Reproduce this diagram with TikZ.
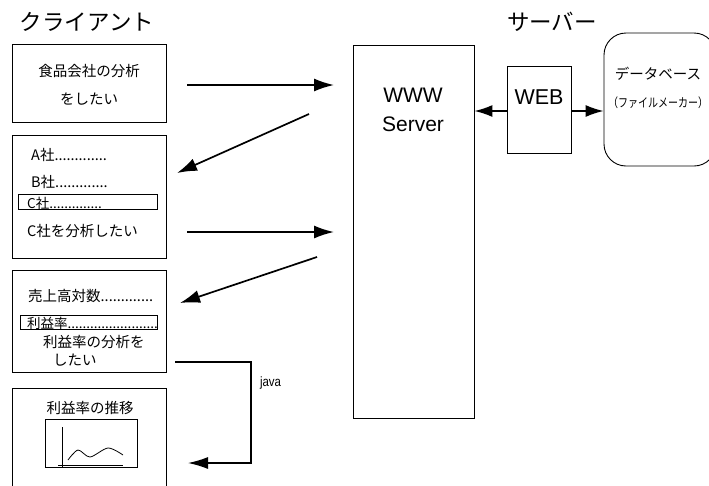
\documentclass[tikz,border=0pt]{standalone}
\usepackage{fontspec}
\setmainfont{Liberation Sans}
\newfontfamily\jpfont{Noto Sans CJK JP}
\usetikzlibrary{arrows.meta}

\begin{document}
\begin{tikzpicture}[x=1pt,y=-1pt,
    box/.style={draw, line width=0.9pt, inner sep=0pt},
    flow/.style={line width=1.7pt, -{Latex[length=20pt,width=13pt]}},
    jp/.style={font=\jpfont\fontsize{14.5}{17}\selectfont, inner sep=0pt, yshift=-1.5pt},
    head/.style={font=\jpfont\fontsize{22.5}{26}\selectfont, inner sep=0pt}]

      \useasboundingbox (0,0) rectangle (709,485);

      % headings
      \node[head] (client) at (87,22) {クライアント};
      \node[head] (serverhd) at (552,22) {サーバー};

      % client screens
      \node[box, minimum width=154, minimum height=78] (scr1) at (89,83) {};
      \node[box, minimum width=154, minimum height=123] (scr2) at (89,196.5) {};
      \node[box, minimum width=154, minimum height=102] (scr3) at (89,321) {};
      \node[box, minimum width=154, minimum height=110] (scr4) at (89,443) {};

      \node[jp] (ask1) at (89,70) {食品会社の分析};
      \node[jp] (ask1b) at (89,98) {をしたい};

      \node[jp, anchor=west] (coA) at (31,153) {A社.............};
      \node[jp, anchor=west] (coB) at (31,180) {B社.............};
      \node[box, minimum width=139, minimum height=15] (selC) at (87.5,202) {};
      \node[jp, anchor=west, yshift=0.5pt, font=\jpfont\fontsize{13.5}{16}\selectfont] (coC) at (27,202) {C社..............};
      \node[jp, anchor=west] (ask2) at (27,230) {C社を分析したい};

      \node[jp, anchor=west] (sales) at (28,294) {売上高対数.............};
      \node[box, minimum width=137, minimum height=14] (selR) at (88.5,322) {};
      \node[jp, anchor=west, yshift=0.5pt, font=\jpfont\fontsize{13.5}{16}\selectfont] (rate) at (27,322) {利益率........................};
      \node[jp, anchor=west] (ask3) at (43,341) {利益率の分析を};
      \node[jp, anchor=west] (ask3b) at (53,359) {したい};

      \node[jp] (trend) at (90,406) {利益率の推移};
      \node[box, minimum width=92, minimum height=48] (chart) at (91,443) {};
      % little graph
      \draw[line width=0.8pt] (62,427) -- (62,468);
      \draw[line width=0.8pt] (58,465) -- (123,465);
      \draw[line width=0.8pt] plot[smooth] coordinates {(68,460) (78,450) (90,457) (108,448) (123,455)};

      % server side
      \node[box, minimum width=121, minimum height=373] (www) at (413.5,231.5) {};
      \node[align=center, font=\fontsize{21}{29}\selectfont] (wwwlbl) at (413,110) {WWW\\Server};
      \node[box, minimum width=64, minimum height=87] (web) at (539,109.5) {};
      \node[font=\fontsize{21.5}{24}\selectfont] (weblbl) at (539,97) {WEB};
      \node[box, rounded corners=22pt, minimum width=112, minimum height=133] (db) at (660,99.5) {};
      \node[jp] (dblbl) at (658,72) {データベース};
      \node[jp, font=\jpfont\fontsize{12.5}{15}\selectfont, xscale=0.8] (dblbl2) at (658,101) {（ファイルメーカー）};

      \draw[flow, line width=1.4pt, -{Latex[length=18pt,width=12pt]}] (web.west |- 0,111) -- (www.east |- 0,111);
      \draw[flow, line width=1.4pt, -{Latex[length=18pt,width=12pt]}] (web.east |- 0,111) -- (db.west |- 0,111);

      % requests and replies
      \coordinate (r1s) at (187,85);  \coordinate (r1e) at (334,85);
      \coordinate (r2s) at (309,114); \coordinate (r2e) at (177,173);
      \coordinate (r3s) at (187,232); \coordinate (r3e) at (334,232);
      \coordinate (r4s) at (317,257); \coordinate (r4e) at (180,303);
      \foreach \r in {r1,r2,r3,r4}{
        \draw[flow] (\r s) -- (\r e);
      }

      % java applet
      \coordinate (j0) at (175,362);
      \coordinate (j1) at (251,362);
      \coordinate (j2) at (251,463);
      \coordinate (j3) at (188,463);
      \draw[flow, line width=1.3pt, -{Latex[length=20pt,width=12pt]}] (j0) -- (j1) -- (j2) -- (j3);
      \node[font=\fontsize{13.5}{15}\selectfont, xscale=0.85, anchor=west] (javalbl) at (257,383) {java};

    \end{tikzpicture}
\end{document}
